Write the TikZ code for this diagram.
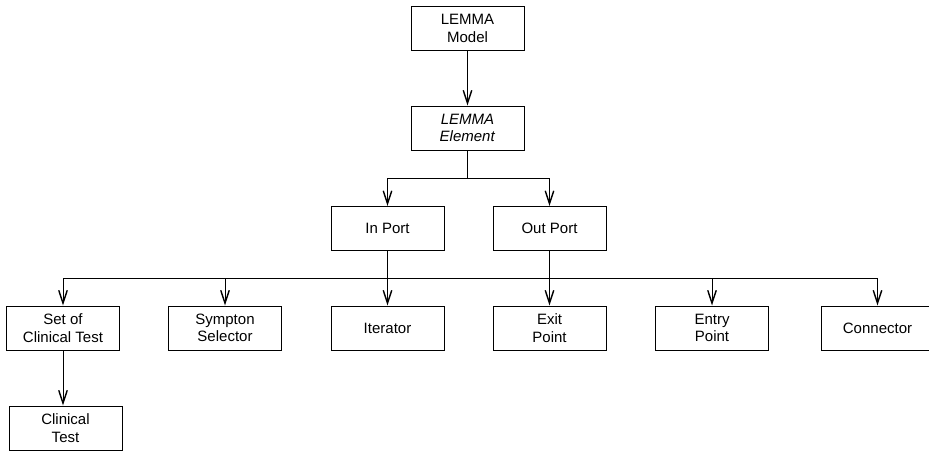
\documentclass[tikz,border=0pt]{standalone}
\usepackage{fontspec}
\setmainfont{Liberation Sans}
\usetikzlibrary{arrows.meta}

\newcommand{\boxfont}{\fontsize{15}{17.5}\selectfont}

\begin{document}
\begin{tikzpicture}[x = 1pt, y = -1pt, line width = 1pt,
  box/.style = {draw, minimum width = 113pt, minimum height = 44pt, align = center, inner sep = 0pt, font = \boxfont},
  >= {Straight Barb[length = 13pt, width = 8.5pt, line width = 1.4pt]}]
\clip (0,0) rectangle (929,451);
\node[box] (model) at (467.5,28.5) {LEMMA\\Model};
\node[box] (element) at (467.5,128) {\textit{LEMMA}\\\textit{Element}};
\node[box] (inport) at (387.5,228.5) {In Port};
\node[box] (outport) at (549.5,228.5) {Out Port};
\node[box] (setof) at (63,328) {Set of\\Clinical Test};
\node[box] (sympton) at (225,328) {Sympton\\Selector};
\node[box] (iterator) at (387.5,328) {Iterator};
\node[box] (exit) at (549.5,328) {Exit\\Point};
\node[box] (entry) at (712,328) {Entry\\Point};
\node[box] (connector) at (877.5,328) {Connector};
\node[box] (clinical) at (65.5,428) {Clinical\\Test};
\coordinate (split1) at (467.5,178);
\coordinate (split2) at (467.5,278);
\draw (model) edge [->] (element);
\draw (element) -- (split1);
\draw [->] (split1) -| (inport);
\draw [->] (split1) -| (outport);
\draw [->] (inport) -- (iterator);
\draw [->] (outport) -- (exit);
\draw (setof |- split2) -- (connector |- split2);
\draw [->] (setof |- split2) -- (setof);
\draw [->] (sympton |- split2) -- (sympton);
\draw [->] (entry |- split2) -- (entry);
\draw [->] (connector |- split2) -- (connector);
\draw [->] (setof) -- (setof |- clinical.north);
\end{tikzpicture}
\end{document}
